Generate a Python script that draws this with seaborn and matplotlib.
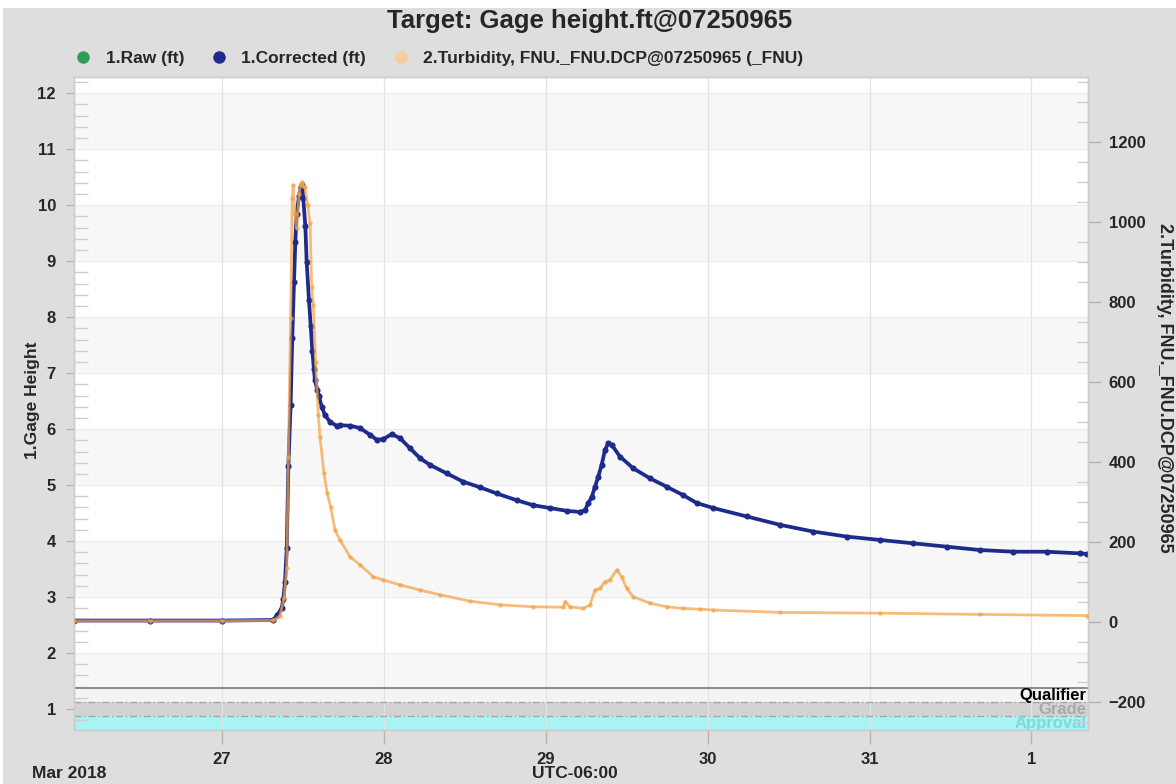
import numpy as np
import pandas as pd
import matplotlib
matplotlib.use("Agg")
import matplotlib.pyplot as plt
import matplotlib.dates as mdates
import matplotlib.transforms as mtransforms
from matplotlib.ticker import MultipleLocator, FixedLocator, FuncFormatter
from matplotlib.lines import Line2D
from matplotlib.patches import Rectangle
import seaborn as sns

# ---------------- data (time as fractional day-of-March, 2018) ----------------
gage_days = [26.086, 26.555, 27.000, 27.317, 27.342, 27.369, 27.379, 27.389, 27.400,
             27.410, 27.424, 27.434, 27.445, 27.453, 27.461, 27.476, 27.486, 27.496,
             27.502, 27.515, 27.523, 27.537, 27.548, 27.558, 27.568, 27.574, 27.589,
             27.599, 27.616, 27.636, 27.667, 27.708, 27.729, 27.791, 27.852, 27.914,
             27.956, 27.996, 28.048, 28.099, 28.161, 28.223, 28.285, 28.388, 28.490,
             28.594, 28.697, 28.820, 28.923, 29.026, 29.129, 29.211, 29.242, 29.263,
             29.284, 29.304, 29.324, 29.345, 29.366, 29.386, 29.407, 29.458, 29.540,
             29.644, 29.747, 29.849, 29.932, 30.035, 30.241, 30.447, 30.652, 30.859,
             31.064, 31.270, 31.476, 31.682, 31.888, 32.094, 32.300, 32.343]
gage_ft = [2.58, 2.58, 2.58, 2.59, 2.68, 2.80, 2.97, 3.26, 3.87,
           5.34, 6.43, 7.62, 8.63, 9.35, 9.84, 10.17, 10.32, 10.36,
           10.12, 9.62, 8.99, 8.31, 7.85, 7.40, 7.07, 6.87, 6.70,
           6.59, 6.40, 6.25, 6.13, 6.06, 6.07, 6.06, 6.02, 5.90,
           5.81, 5.82, 5.91, 5.84, 5.66, 5.48, 5.36, 5.21, 5.06,
           4.96, 4.85, 4.73, 4.64, 4.59, 4.54, 4.52, 4.55, 4.68,
           4.79, 4.97, 5.15, 5.36, 5.63, 5.75, 5.72, 5.51, 5.30,
           5.12, 4.97, 4.82, 4.68, 4.59, 4.44, 4.29, 4.17, 4.08,
           4.02, 3.96, 3.90, 3.84, 3.81, 3.81, 3.78, 3.77]

turb_days = [26.086, 26.555, 27.000, 27.317, 27.358, 27.383, 27.400, 27.410, 27.424,
             27.434, 27.440, 27.451, 27.461, 27.476, 27.486, 27.496, 27.502, 27.513,
             27.529, 27.544, 27.554, 27.564, 27.578, 27.595, 27.605, 27.630, 27.650,
             27.671, 27.698, 27.729, 27.791, 27.852, 27.935, 27.996, 28.099, 28.223,
             28.347, 28.532, 28.717, 28.923, 29.108, 29.119, 29.149, 29.232, 29.273,
             29.304, 29.335, 29.366, 29.396, 29.438, 29.469, 29.500, 29.540, 29.644,
             29.747, 29.849, 29.952, 30.035, 30.447, 31.064, 31.682, 32.343]
turb_fnu = [3, 3, 3, 4, 15, 60, 135, 413, 760,
            1060, 1092, 1020, 985, 1070, 1095, 1100, 1090, 1088,
            1043, 997, 838, 793, 650, 517, 463, 372, 322,
            288, 230, 205, 163, 143, 113, 105, 93, 80,
            68, 52, 43, 38, 37, 51, 38, 34, 43,
            80, 84, 101, 105, 130, 113, 84, 63, 47,
            38, 34, 32, 30, 24, 22, 19, 16]

series_labels = ["1.Raw (ft)", "1.Corrected (ft)",
                 "2.Turbidity, FNU._FNU.DCP@07250965 (_FNU)"]
left_ticks = [1, 2, 3, 4, 5, 6, 7, 8, 9, 10, 11, 12]
right_ticks = [-200, 0, 200, 400, 600, 800, 1000, 1200]
x_range_days = [26.086, 32.349]

# ---------------- helpers ----------------
def to_time(days):
    return pd.Timestamp("2018-03-01") + pd.to_timedelta(np.asarray(days, dtype=float) - 1.0, unit="D")

gage_df = pd.DataFrame({"time": to_time(gage_days), "ft": gage_ft})
turb_df = pd.DataFrame({"time": to_time(turb_days), "fnu": turb_fnu})

sns.set_style("white")
plt.rcParams["font.family"] = ["Liberation Sans", "DejaVu Sans"]
plt.rcParams["font.weight"] = "bold"

W, H = 1176, 784
NAVY = "#1f2b8c"
GREEN = "#2e9e52"
ORANGE = "#f4a347"
PEACH = "#f6cd9f"
TICKC = "#b4b4b4"

fig = plt.figure(figsize=(W / 100, H / 100), dpi=100, facecolor="#dedede")
fig.patches.append(Rectangle((0, 1 - 8 / H), 1, 8 / H, transform=fig.transFigure,
                             facecolor="white", edgecolor="none", zorder=-5))
fig.patches.append(Rectangle((0, 0), 3 / W, 1, transform=fig.transFigure,
                             facecolor="white", edgecolor="none", zorder=-5))

ax = fig.add_axes([74 / W, 54 / H, (1088 - 74) / W, (730 - 77) / H])
ax.set_facecolor("white")
ax2 = ax.twinx()

# background bands
for lo in [11, 9, 7, 5, 3]:
    ax.axhspan(lo, lo + 1, color="#f7f7f7", lw=0, zorder=0.1)
ax.axhspan(1.375, 2, color="#f7f7f7", lw=0, zorder=0.1)
ax.axhspan(1.125, 1.375, color="#f4f4f4", lw=0, zorder=0.1)
ax.axhspan(0.875, 1.125, color="#d3d3d3", lw=0, zorder=0.1)
ax.axhspan(0.625, 0.875, color="#a8f3f3", lw=0, zorder=0.1)
for v in range(2, 13):
    ax.axhline(v, color="#ebebeb", lw=0.8, zorder=0.2)
ax.axhline(1.375, color="#8a8a8a", lw=1.4, zorder=2)
ax.axhline(1.125, color="#a5a5a5", lw=1.0, ls=(0, (5, 2, 1, 2)), zorder=2)
ax.axhline(0.875, color="#a5a5a5", lw=1.0, ls=(0, (5, 2, 1, 2)), zorder=2)

ax.set_axisbelow(True)
ax.grid(axis="x", color="#e3e3e3", lw=0.9)
ax.grid(axis="y", visible=False)

# data
sns.lineplot(data=gage_df, x="time", y="ft", ax=ax, color=GREEN, lw=1.0,
             estimator=None, sort=False, zorder=3, legend=False)
sns.lineplot(data=gage_df, x="time", y="ft", ax=ax, color=NAVY, lw=2.7,
             marker="o", markersize=4.4, markeredgewidth=0, markerfacecolor=NAVY,
             estimator=None, sort=False, zorder=4, legend=False)
sns.lineplot(data=turb_df, x="time", y="fnu", ax=ax2, color=ORANGE, lw=2.0, alpha=0.72,
             marker="o", markersize=3.2, markeredgewidth=0,
             estimator=None, sort=False, zorder=5, legend=False)

# axes limits
ax.set_ylim(0.625, 12.29)
ax2.set_ylim(-270, 1362.5)
ax.set_xlim(to_time(x_range_days))

# ticks
ax.yaxis.set_major_locator(FixedLocator(left_ticks))
ax.yaxis.set_minor_locator(MultipleLocator(0.2))
ax.yaxis.set_major_formatter(FuncFormatter(lambda v, p: f"{int(round(v))}"))
ax.tick_params(axis="y", which="major", left=True, right=False, direction="out",
               length=6, width=1, color=TICKC, labelsize=12, pad=7)
ax.tick_params(axis="y", which="minor", left=True, right=False, direction="in",
               length=10, width=1, color="#cfcfcf")

ax2.yaxis.set_major_locator(FixedLocator(right_ticks))
ax2.yaxis.set_minor_locator(MultipleLocator(50))
ax2.tick_params(axis="y", which="major", right=True, left=False, direction="out",
                length=9, width=1, color=TICKC, labelsize=12, pad=6)
ax2.tick_params(axis="y", which="minor", right=True, left=False, direction="in",
                length=8, width=1, color="#cfcfcf")

ax.xaxis.set_major_locator(mdates.DayLocator())
ax.xaxis.set_major_formatter(FuncFormatter(lambda v, p: str(mdates.num2date(v).day)))
ax.tick_params(axis="x", which="major", bottom=True, direction="out", length=10,
               width=1, color=TICKC, labelsize=12, pad=6)
ax2.tick_params(axis="x", bottom=False, top=False)

for a in (ax, ax2):
    a.set_xlabel("")
    a.set_ylabel("")
    for s in a.spines.values():
        s.set_color("#cdcdcd")
        s.set_linewidth(1.0)

# band labels
blend = mtransforms.blended_transform_factory(ax.transAxes, ax.transData)
ax.text(0.998, 1.25, "Qualifier", transform=blend, ha="right", va="center",
        fontsize=12, color="black", zorder=6)
ax.text(0.998, 1.0, "Grade", transform=blend, ha="right", va="center",
        fontsize=12, color="#a9a9a9", zorder=6)
ax.text(0.998, 0.75, "Approval", transform=blend, ha="right", va="center",
        fontsize=12, color="#7fd9d9", zorder=6)

# texts
fig.text(590 / W, 1 - 21 / H, "Target: Gage height.ft@07250965", ha="center", va="center",
         fontsize=18.5)
fig.text(32 / W, 1 - 400 / H, "1.Gage Height", rotation=90, ha="center", va="center",
         fontsize=12.5)
fig.text(1165 / W, 1 - 388 / H, "2.Turbidity, FNU._FNU.DCP@07250965", rotation=270,
         ha="center", va="center", fontsize=13)
fig.text(32 / W, 1 - 773 / H, "Mar 2018", ha="left", va="center", fontsize=12.5)
fig.text(575 / W, 1 - 773 / H, "UTC-06:00", ha="center", va="center", fontsize=12.5)

# legend
handles = [Line2D([], [], ls="", marker="o", markersize=9, markeredgewidth=0, color=c)
           for c in (GREEN, NAVY, PEACH)]
fig.legend(handles, series_labels, loc="center left", bbox_to_anchor=(76 / W, 1 - 58 / H),
           ncol=3, frameon=False, handlelength=0.8, handletextpad=0.9, columnspacing=1.6,
           borderpad=0, borderaxespad=0, fontsize=12.5)

fig.savefig("out.png", dpi=100, facecolor=fig.get_facecolor())
